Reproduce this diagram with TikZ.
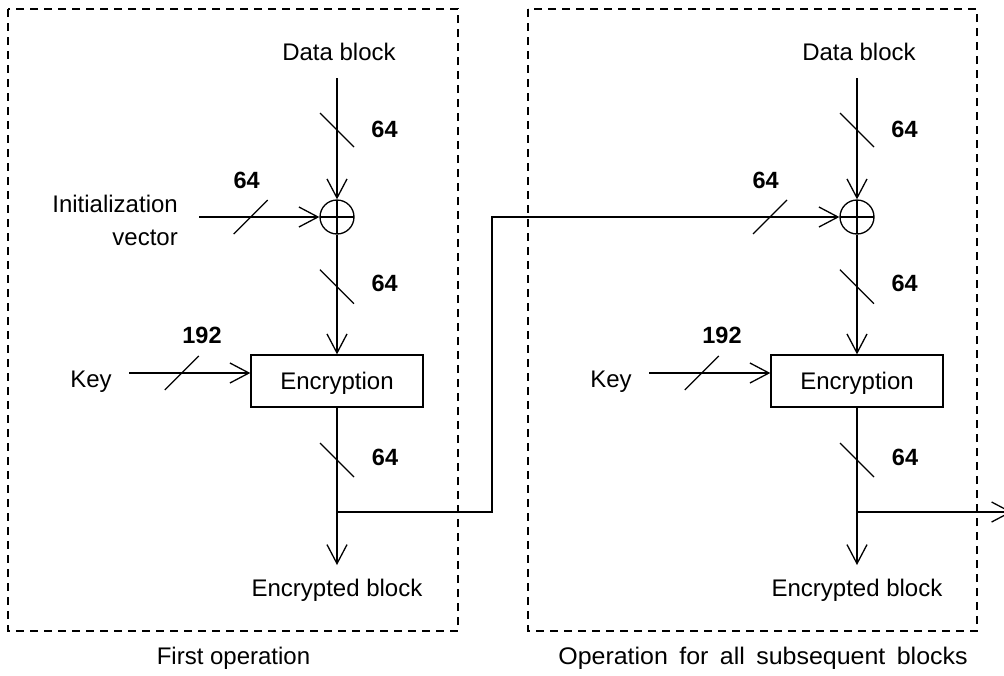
\documentclass[tikz,border=0pt]{standalone}
\usepackage{graphicx}
\usepackage{fontspec}
\setmainfont{Liberation Sans}
\usetikzlibrary{arrows.meta}

\tikzset{
  wire/.style={line width=1.3pt},
  flow/.style={wire, -{Straight Barb[length=19pt,width=20pt]}},
  lbl/.style={font=\fontsize{24}{28}\selectfont, inner sep=0pt, anchor=base},
  bits/.style={font=\bfseries\fontsize{23.5}{28}\selectfont, inner sep=0pt, anchor=base},
  xorgate/.style={circle, draw, line width=1.3pt, minimum size=34pt, inner sep=0pt,
    path picture={\draw[line width=1.3pt]
      (path picture bounding box.north) -- (path picture bounding box.south)
      (path picture bounding box.west) -- (path picture bounding box.east);}},
  cipher/.style={draw, line width=1.3pt, minimum width=172pt, minimum height=52pt,
    inner sep=0pt, text depth=0pt, font=\fontsize{24}{28}\selectfont},
  frame/.style={draw, line width=1.6pt, dash pattern=on 8pt off 6pt},
  busv/.pic={\draw[wire] (-17,-17) -- (17,17);},
  bush/.pic={\draw[wire] (-17,17) -- (17,-17);},
}

\begin{document}
\begin{tikzpicture}[x=1pt,y=-1pt]
\useasboundingbox (0,0) rectangle (1004,675);
\clip (0,0) rectangle (1004,675);

% stage frames and captions
\draw[frame] (8,9) rectangle (458,631);
\draw[frame] (528,9) rectangle (977,631);
\node[lbl] (capA) at (233.5,664) {First operation};
\node[lbl] (capB) at (763,664) {\scalebox{1.04}[1]{\spaceskip=11pt Operation for all subsequent blocks}};

% ---------- first operation ----------
\node[lbl] (dataA) at (339,60) {Data block};
\coordinate (inA) at (337,78);
\node[xorgate] (xorA) at (337,217) {};
\node[cipher] (encA) at (337,381) {Encryption};
\coordinate (outA) at (337,565);
\node[lbl] (ctA) at (337,596) {Encrypted block};

\node[lbl, anchor=base east] (ivA1) at (178,212) {Initialization};
\node[lbl, anchor=base east] (ivA2) at (178,245.3) {vector};
\coordinate (ivin) at (199,217);

\node[lbl] (keyA) at (91,387.3) {Key};
\coordinate (kinA) at (129,373);

\draw[flow] (inA) -- (xorA.north);
\draw[flow] (ivin) -- (xorA.west);
\draw[flow] (xorA.south) -- (encA.north);
\draw[flow] (kinA) -- (kinA -| encA.west);
\draw[flow] (encA.south) -- (outA);

\pic at (337,130) {busv};
\pic at (337,286.7) {busv};
\pic at (337,460) {busv};
\pic at (250.7,217) {bush};
\pic at (181.8,373) {bush};

\node[bits] (wA1) at (384.5,137.3) {64};
\node[bits] (wA2) at (384.7,291.7) {64};
\node[bits] (wA3) at (385,465) {64};
\node[bits] (wIV) at (246.7,188.3) {64};
\node[bits] (wKA) at (202,343.3) {192};

% chaining value into the next block
\coordinate (brA) at (337,512);
\coordinate (upA) at (492,512);
\coordinate (upB) at (492,217);

% ---------- subsequent blocks ----------
\node[lbl] (dataB) at (859,60) {Data block};
\coordinate (inB) at (857,78);
\node[xorgate] (xorB) at (857,217) {};
\node[cipher] (encB) at (857,381) {Encryption};
\coordinate (outB) at (857,565);
\node[lbl] (ctB) at (857,596) {Encrypted block};

\node[lbl] (keyB) at (611,387.3) {Key};
\coordinate (kinB) at (649,373);

\draw[flow] (brA) -- (upA) -- (upB) -- (xorB.west);

\draw[flow] (inB) -- (xorB.north);
\draw[flow] (xorB.south) -- (encB.north);
\draw[flow] (kinB) -- (kinB -| encB.west);
\draw[flow] (encB.south) -- (outB);

\coordinate (brB) at (857,512);
\coordinate (nextB) at (1012,512);
\draw[flow] (brB) -- (nextB);

\pic at (857,130) {busv};
\pic at (857,286.7) {busv};
\pic at (857,460) {busv};
\pic at (770,217) {bush};
\pic at (701.8,373) {bush};

\node[bits] (wB1) at (904.5,137.3) {64};
\node[bits] (wB2) at (904.7,291.7) {64};
\node[bits] (wB3) at (905,465) {64};
\node[bits] (wCh) at (765.7,188.3) {64};
\node[bits] (wKB) at (722,343.3) {192};
\end{tikzpicture}
\end{document}
